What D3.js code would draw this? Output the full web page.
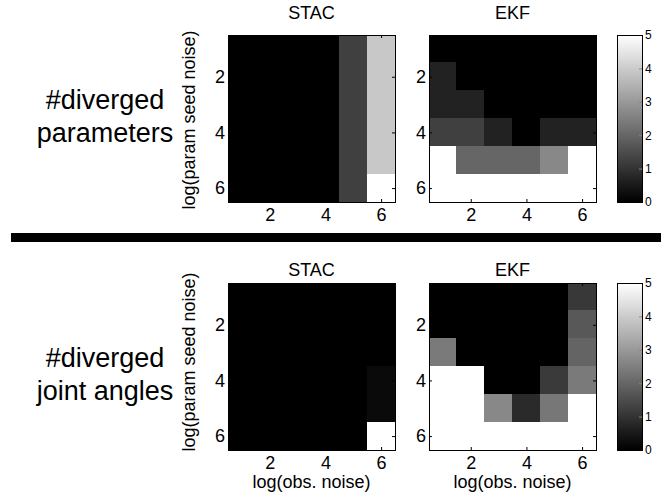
<!DOCTYPE html>
<meta charset="utf-8">

<!-- Load d3.js -->
<script src="https://d3js.org/d3.v7.min.js"></script>

<style>
  body { margin: 0; background: #fff; }
  text { font-family: "Liberation Sans", Arial, Helvetica, sans-serif; fill: #000; }
</style>

<!-- Create a div where the graph will take place -->
<div id="my_dataviz"></div>

<script>
  var width = 661
  var height = 499

  // grid positions, log(obs. noise) on x, log(param seed noise) on y
  var obsNoise = [1, 2, 3, 4, 5, 6]
  var seedNoise = [1, 2, 3, 4, 5, 6]
  var axisTicks = [2, 4, 6]
  var colorTicks = [0, 1, 2, 3, 4, 5]

  // #diverged values, one row per seed noise level
  var stacParams = [
    [0, 0, 0, 0, 1.25, 3.92],
    [0, 0, 0, 0, 1.25, 3.92],
    [0, 0, 0, 0, 1.25, 3.92],
    [0, 0, 0, 0, 1.25, 3.92],
    [0, 0, 0, 0, 1.25, 3.92],
    [0, 0, 0, 0, 1.25, 5]
  ]
  var ekfParams = [
    [0, 0, 0, 0, 0, 0],
    [0.67, 0, 0, 0, 0, 0],
    [0.67, 0.67, 0, 0, 0, 0],
    [1.25, 1.25, 0.67, 0, 0.67, 0.67],
    [5, 2, 2, 2, 2.67, 5],
    [5, 5, 5, 5, 5, 5]
  ]
  var stacJoints = [
    [0, 0, 0, 0, 0, 0],
    [0, 0, 0, 0, 0, 0],
    [0, 0, 0, 0, 0, 0],
    [0, 0, 0, 0, 0, 0.2],
    [0, 0, 0, 0, 0, 0.2],
    [0, 0, 0, 0, 0, 5]
  ]
  var ekfJoints = [
    [0, 0, 0, 0, 0, 1.1],
    [0, 0, 0, 0, 0, 1.73],
    [2.4, 0, 0, 0, 0, 1.96],
    [5, 5, 0, 0, 1.14, 2.4],
    [5, 5, 2.67, 0.82, 2.33, 5],
    [5, 5, 5, 5, 5, 5]
  ]

  var svg = d3.select("#my_dataviz")
    .append("svg")
      .attr("width", width)
      .attr("height", height)

  var cellSize = 167
  var color = d3.scaleLinear().domain([0, 5]).range(["#000000", "#ffffff"])

  var x = d3.scaleLinear().domain([0.5, 6.5]).range([0, cellSize])
  var y = d3.scaleLinear().domain([0.5, 6.5]).range([0, cellSize])
  var fmt = d3.format("d")

  function heatmap(left, top, values, title, titleGap, showXLabel) {
    var g = svg.append("g").attr("transform", "translate(" + left + "," + top + ")")

    var cells = []
    values.forEach(function(row, i) {
      row.forEach(function(v, j) {
        cells.push({ obs: obsNoise[j], seed: seedNoise[i], value: v })
      })
    })

    g.selectAll("rect.cell")
      .data(cells)
      .enter()
      .append("rect")
        .attr("class", "cell")
        .attr("x", function(d){ return Math.floor(x(d.obs - 0.5)) })
        .attr("y", function(d){ return Math.floor(y(d.seed - 0.5)) })
        .attr("width", function(d){ return Math.ceil(x(d.obs + 0.5)) - Math.floor(x(d.obs - 0.5)) })
        .attr("height", function(d){ return Math.ceil(y(d.seed + 0.5)) - Math.floor(y(d.seed - 0.5)) })
        .attr("shape-rendering", "crispEdges")
        .style("fill", function(d){ return color(d.value) })

    // inward ticks on all four sides, like a boxed matlab axis
    g.append("g")
      .attr("transform", "translate(0," + cellSize + ")")
      .call(d3.axisBottom(x).tickValues(axisTicks).tickFormat(fmt).tickSizeInner(-3).tickSizeOuter(0).tickPadding(6))
    g.append("g")
      .call(d3.axisLeft(y).tickValues(axisTicks).tickFormat(fmt).tickSizeInner(-3).tickSizeOuter(0).tickPadding(3))
    g.append("g")
      .call(d3.axisTop(x).tickValues(axisTicks).tickSizeInner(-3).tickSizeOuter(0).tickFormat(""))
    g.append("g")
      .attr("transform", "translate(" + cellSize + ",0)")
      .call(d3.axisRight(y).tickValues(axisTicks).tickSizeInner(-3).tickSizeOuter(0).tickFormat(""))

    g.selectAll(".domain").remove()
    g.selectAll(".tick line").attr("stroke", "#000")
    g.selectAll(".tick text").style("font-size", "18px").style("font-family", "Liberation Sans, Arial, sans-serif")

    g.append("rect")
      .attr("x", 0.5)
      .attr("y", 0.5)
      .attr("width", cellSize)
      .attr("height", cellSize)
      .style("fill", "none")
      .style("stroke", "#000")
      .style("stroke-width", 1)

    g.append("text")
      .attr("x", cellSize / 2)
      .attr("y", -titleGap)
      .attr("text-anchor", "middle")
      .style("font-size", "18px")
      .text(title)

    if (showXLabel) {
      g.append("text")
        .attr("x", cellSize / 2)
        .attr("y", cellSize + 38)
        .attr("text-anchor", "middle")
        .style("font-size", "18px")
        .text("log(obs. noise)")
    }
  }

  function colorbar(left, top, id) {
    var defs = svg.append("defs")
    var grad = defs.append("linearGradient")
      .attr("id", id)
      .attr("x1", 0).attr("y1", 1).attr("x2", 0).attr("y2", 0)
    grad.append("stop").attr("offset", "0%").attr("stop-color", color(0))
    grad.append("stop").attr("offset", "100%").attr("stop-color", color(5))

    var cy = d3.scaleLinear().domain([0, 5]).range([cellSize, 0])
    var g = svg.append("g").attr("transform", "translate(" + left + "," + top + ")")
    g.append("rect")
      .attr("width", 25)
      .attr("height", cellSize)
      .style("fill", "url(#" + id + ")")
    g.append("g")
      .attr("transform", "translate(25,0)")
      .call(d3.axisRight(cy).tickValues(colorTicks).tickFormat(fmt).tickSizeInner(-3).tickSizeOuter(0).tickPadding(3))
    g.selectAll(".domain").remove()
    g.selectAll(".tick line").attr("stroke", "#888")
    g.selectAll(".tick text").style("font-size", "12px").style("font-family", "Liberation Sans, Arial, sans-serif")
    g.append("rect")
      .attr("x", 0.5)
      .attr("y", 0.5)
      .attr("width", 25)
      .attr("height", cellSize)
      .style("fill", "none")
      .style("stroke", "#000")
  }

  function rowLabel(lines, cx, baseline) {
    svg.append("text")
      .attr("text-anchor", "middle")
      .style("font-size", "27px")
      .selectAll("tspan")
      .data(lines)
      .enter()
      .append("tspan")
        .attr("x", cx)
        .attr("y", function(d, i){ return baseline + i * 33 })
        .text(function(d){ return d })
  }

  function yLabel(cx, cy) {
    svg.append("text")
      .attr("transform", "translate(" + cx + "," + cy + ") rotate(-90)")
      .attr("text-anchor", "middle")
      .style("font-size", "18px")
      .text("log(param seed noise)")
  }

  // top row: diverged parameters
  heatmap(228, 35, stacParams, "STAC", 16, false)
  heatmap(429, 35, ekfParams, "EKF", 16, false)
  colorbar(617, 35, "grayTop")
  rowLabel(["#diverged", "parameters"], 105, 109)
  yLabel(195, 120)

  // thick divider
  svg.append("rect")
    .attr("x", 11)
    .attr("y", 233)
    .attr("width", 650)
    .attr("height", 9)
    .style("fill", "#000")

  // bottom row: diverged joint angles
  heatmap(228, 283, stacJoints, "STAC", 7, true)
  heatmap(429, 283, ekfJoints, "EKF", 7, true)
  colorbar(617, 283, "grayBottom")
  rowLabel(["#diverged", "joint angles"], 105, 367)
  yLabel(195, 362)
</script>
